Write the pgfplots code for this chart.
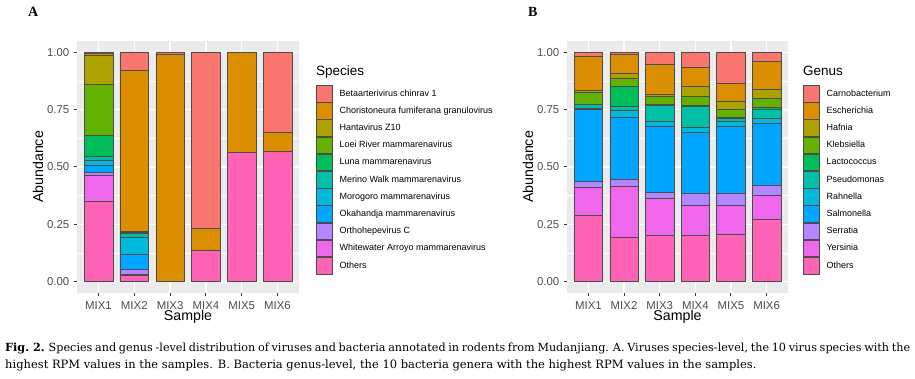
\documentclass[border=0pt]{standalone}
\usepackage{fontspec}
\setmainfont{Liberation Sans}
\newfontfamily\capfont{DejaVu Serif}
\newfontfamily\labfont{Liberation Serif}
\usepackage{graphicx}
\usepackage{pgfplots}
\usepackage{pgfplotstable}
\pgfplotsset{compat=1.18}

\definecolor{cA}{HTML}{F8766D}
\definecolor{cB}{HTML}{DB8E00}
\definecolor{cC}{HTML}{AEA200}
\definecolor{cD}{HTML}{64B200}
\definecolor{cE}{HTML}{00BD5C}
\definecolor{cF}{HTML}{00C1A7}
\definecolor{cG}{HTML}{00BADE}
\definecolor{cH}{HTML}{00A6FF}
\definecolor{cI}{HTML}{B385FF}
\definecolor{cJ}{HTML}{EF67EB}
\definecolor{cK}{HTML}{FF63B6}
\definecolor{panelbg}{HTML}{EBEBEB}
\definecolor{grey30}{HTML}{4D4D4D}
\definecolor{grey20}{HTML}{333333}

\pgfplotstableread{
x Others Whitewater Ortho Okahandja Morogoro Merino Luna Loei Hanta Chor Beta
1 0.349 0.117 0.009 0.031 0.024 0.015 0.092 0.223 0.128 0.010 0.002
2 0.028 0.006 0.020 0.067 0.071 0.019 0.004 0.003 0.000 0.704 0.078
3 0.000 0.000 0.000 0.000 0.000 0.000 0.000 0.000 0.000 0.992 0.008
4 0.138 0.000 0.000 0.000 0.000 0.000 0.000 0.000 0.000 0.095 0.767
5 0.564 0.000 0.000 0.000 0.000 0.000 0.000 0.000 0.000 0.436 0.000
6 0.568 0.000 0.000 0.000 0.000 0.000 0.000 0.000 0.000 0.082 0.350
}\species

\pgfplotstableread{
x Others Yersinia Serratia Salmonella Rahnella Pseudomonas Lactococcus Klebsiella Hafnia Escherichia Carno
1 0.291 0.119 0.026 0.314 0.007 0.015 0.004 0.050 0.007 0.152 0.015
2 0.192 0.225 0.031 0.267 0.032 0.018 0.087 0.035 0.024 0.080 0.009
3 0.201 0.162 0.027 0.289 0.020 0.069 0.005 0.034 0.010 0.132 0.051
4 0.201 0.132 0.051 0.267 0.023 0.092 0.004 0.040 0.042 0.082 0.066
5 0.208 0.125 0.054 0.293 0.021 0.011 0.007 0.033 0.033 0.081 0.134
6 0.272 0.105 0.045 0.267 0.023 0.041 0.006 0.043 0.039 0.121 0.038
}\genus

\pgfplotsset{
  gg/.style={
    scale only axis, width=222pt, height=252pt,
    xmin=0.4, xmax=6.6, ymin=-0.05, ymax=1.05,
    axis background/.style={fill=panelbg},
    axis line style={draw=none},
    xtick={1,2,3,4,5,6},
    xticklabels={MIX1,MIX2,MIX3,MIX4,MIX5,MIX6},
    ytick={0,0.25,0.5,0.75,1},
    yticklabels={0.00,0.25,0.50,0.75,1.00},
    minor ytick={0.125,0.375,0.625,0.875},
    xmajorgrids, ymajorgrids, yminorgrids,
    major grid style={white, line width=1.4pt},
    minor grid style={white, line width=0.7pt},
    tick align=outside, major tick length=3.5pt, minor tick length=0pt,
    xtick pos=bottom, ytick pos=left,
    major tick style={grey20, line width=1pt},
    tick label style={font=\fontsize{11.4}{12}\selectfont, text=grey30, inner sep=0pt},
    xticklabel style={yshift=-4.5pt},
    yticklabel style={xshift=-4pt},
    xlabel={Sample}, ylabel={Abundance},
    every axis x label/.style={at={(axis description cs:0.5,-0.1111)}, anchor=base,
      font=\fontsize{14.2}{15}\selectfont, text=black, inner sep=0pt},
    every axis y label/.style={at={(axis description cs:-0.153,0.5)}, rotate=90, anchor=base,
      font=\fontsize{14.2}{15}\selectfont, text=black, inner sep=0pt},
    ybar stacked, bar width=0.8,
    every axis plot/.append style={draw=black!70, line width=0.5pt},
    every axis plot post/.append style={legend image code/.code={\draw[##1,/tikz/.cd] (0pt,-8.35pt) rectangle (16pt,8.35pt);}},
    reverse legend,
    legend cell align=left,
    legend style={draw=none, fill=none, inner sep=0pt, outer sep=0pt, row sep=0pt, column sep=7pt,
      font=\fontsize{9}{10}\selectfont, nodes={inner sep=0pt, outer sep=0pt}, anchor=north west},
  },
}

\begin{document}
\begin{tikzpicture}
\useasboundingbox (0,0) rectangle (915pt,379pt);

\begin{axis}[gg, at={(77pt,86pt)}, anchor=south west,
  legend style={at={(axis description cs:1.0766,0.8254)}}]
\addplot[fill=cK] table[x=x,y=Others]{\species}; \addlegendentry{Others}
\addplot[fill=cJ] table[x=x,y=Whitewater]{\species}; \addlegendentry{Whitewater Arroyo mammarenavirus}
\addplot[fill=cI] table[x=x,y=Ortho]{\species}; \addlegendentry{Orthohepevirus C}
\addplot[fill=cH] table[x=x,y=Okahandja]{\species}; \addlegendentry{Okahandja mammarenavirus}
\addplot[fill=cG] table[x=x,y=Morogoro]{\species}; \addlegendentry{Morogoro mammarenavirus}
\addplot[fill=cF] table[x=x,y=Merino]{\species}; \addlegendentry{Merino Walk mammarenavirus}
\addplot[fill=cE] table[x=x,y=Luna]{\species}; \addlegendentry{Luna mammarenavirus}
\addplot[fill=cD] table[x=x,y=Loei]{\species}; \addlegendentry{Loei River mammarenavirus}
\addplot[fill=cC] table[x=x,y=Hanta]{\species}; \addlegendentry{Hantavirus Z10}
\addplot[fill=cB] table[x=x,y=Chor]{\species}; \addlegendentry{Choristoneura fumiferana granulovirus}
\addplot[fill=cA] table[x=x,y=Beta]{\species}; \addlegendentry{Betaarterivirus chinrav 1}
\end{axis}

\begin{axis}[gg, width=221pt, at={(567pt,86pt)}, anchor=south west,
  legend style={at={(axis description cs:1.0679,0.8254)}}]
\addplot[fill=cK] table[x=x,y=Others]{\genus}; \addlegendentry{Others}
\addplot[fill=cJ] table[x=x,y=Yersinia]{\genus}; \addlegendentry{Yersinia}
\addplot[fill=cI] table[x=x,y=Serratia]{\genus}; \addlegendentry{Serratia}
\addplot[fill=cH] table[x=x,y=Salmonella]{\genus}; \addlegendentry{Salmonella}
\addplot[fill=cG] table[x=x,y=Rahnella]{\genus}; \addlegendentry{Rahnella}
\addplot[fill=cF] table[x=x,y=Pseudomonas]{\genus}; \addlegendentry{Pseudomonas}
\addplot[fill=cE] table[x=x,y=Lactococcus]{\genus}; \addlegendentry{Lactococcus}
\addplot[fill=cD] table[x=x,y=Klebsiella]{\genus}; \addlegendentry{Klebsiella}
\addplot[fill=cC] table[x=x,y=Hafnia]{\genus}; \addlegendentry{Hafnia}
\addplot[fill=cB] table[x=x,y=Escherichia]{\genus}; \addlegendentry{Escherichia}
\addplot[fill=cA] table[x=x,y=Carno]{\genus}; \addlegendentry{Carnobacterium}
\end{axis}

\node[anchor=base west, inner sep=0pt] at (316pt,303.3pt) {\fontsize{13.5}{14}\selectfont Species};
\node[anchor=base west, inner sep=0pt] at (803pt,303pt) {\fontsize{13.5}{14}\selectfont Genus};

\node[anchor=base west, inner sep=0pt] at (28pt,362.3pt) {\labfont\bfseries\fontsize{14}{14}\selectfont A};
\node[anchor=base west, inner sep=0pt] at (528pt,362.3pt) {\labfont\bfseries\fontsize{14}{14}\selectfont B};

\node[anchor=base west, inner sep=0pt] at (5pt,27.3pt) {\resizebox{905pt}{!}{\capfont\fontsize{11.2}{12}\selectfont\spaceskip=0.24em\relax \textbf{Fig. 2.} Species and genus -level distribution of viruses and bacteria annotated in rodents from Mudanjiang. A. Viruses species-level, the 10 virus species with the}};
\node[anchor=base west, inner sep=0pt] at (5pt,10.7pt) {\capfont\fontsize{11.5}{12}\selectfont highest RPM values in the samples. B. Bacteria genus-level, the 10 bacteria genera with the highest RPM values in the samples.};
\end{tikzpicture}
\end{document}
